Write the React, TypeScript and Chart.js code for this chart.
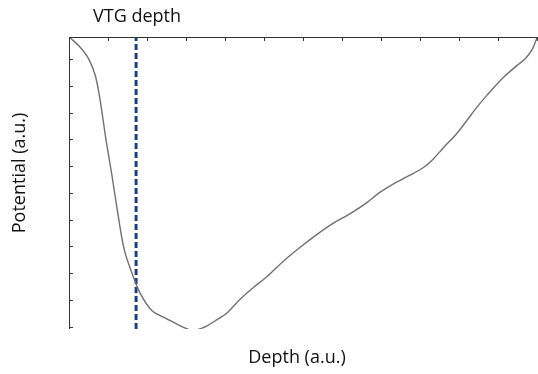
import React, { useEffect, useRef } from "react";
import { Chart, registerables } from "chart.js";

Chart.register(...registerables);

const depthX = [0.03, 0.28, 0.49, 0.67, 0.79, 0.95, 1.10, 1.26, 1.41, 1.59, 1.82, 2.13, 2.51, 2.85, 3.10, 3.28, 3.54, 3.74, 4.05, 4.38, 4.72, 5.08, 5.49, 5.92, 6.36, 6.77, 7.21, 7.64, 7.95, 8.31, 8.74, 9.08, 9.33, 9.59, 9.95, 10.21, 10.46, 10.72, 11.13, 11.49, 11.69, 11.87, 12.0];
const potentialY = [10.79, 10.45, 10.04, 9.40, 8.54, 6.97, 5.66, 4.16, 2.92, 2.10, 1.27, 0.60, 0.30, 0.04, -0.11, -0.11, 0.04, 0.22, 0.52, 1.02, 1.46, 1.88, 2.44, 2.96, 3.45, 3.86, 4.23, 4.64, 5.0, 5.33, 5.66, 5.94, 6.25, 6.67, 7.23, 7.72, 8.20, 8.65, 9.30, 9.76, 10.0, 10.34, 10.79];
const vtgDepth = 1.72;
const xTicks = [0, 1, 2, 3, 4, 5, 6, 7, 8, 9, 10, 11, 12];
const yTicks = [0, 1, 2, 3, 4, 5, 6, 7, 8, 9, 10];
const xMin = 0, xMax = 12, yMin = -0.08, yMax = 10.82;
const vtgLabel = "VTG depth";
const xTitle = "Depth (a.u.)";
const yTitle = "Potential (a.u.)";

const FONT = "'Open Sans', sans-serif";

const axesPlugin = {
  id: "customAxes",
  afterDraw(chart: any) {
    const { ctx, chartArea } = chart;
    const xs = chart.scales.x;
    const ys = chart.scales.y;
    const left = chartArea.left;
    const top = chartArea.top;
    const right = chartArea.right;
    const bottom = chartArea.bottom;
    ctx.save();
    ctx.strokeStyle = "#333";
    ctx.lineWidth = 1;
    ctx.beginPath();
    ctx.moveTo(left + 0.5, bottom);
    ctx.lineTo(left + 0.5, top + 0.5);
    ctx.lineTo(right, top + 0.5);
    ctx.stroke();
    ctx.beginPath();
    xTicks.forEach((t) => {
      const px = Math.round(xs.getPixelForValue(t)) + 0.5;
      ctx.moveTo(px, top);
      ctx.lineTo(px, top + 4);
    });
    yTicks.forEach((t) => {
      const py = Math.round(ys.getPixelForValue(t)) + 0.5;
      ctx.moveTo(left, py);
      ctx.lineTo(left + 4, py);
    });
    ctx.stroke();
    ctx.fillStyle = "#111";
    ctx.font = `18px ${FONT}`;
    ctx.textAlign = "center";
    ctx.textBaseline = "middle";
    ctx.fillText(vtgLabel, xs.getPixelForValue(vtgDepth) + 1, 17);
    ctx.fillText(xTitle, 297, 358);
    ctx.translate(20, 173);
    ctx.rotate(-Math.PI / 2);
    ctx.fillText(yTitle, 0, 0);
    ctx.restore();
  },
};

export default function App() {
  const ref = useRef<HTMLCanvasElement>(null);
  useEffect(() => {
    document.body.style.margin = "0";
    const chart = new Chart(ref.current as HTMLCanvasElement, {
      type: "scatter",
      data: {
        datasets: [
          {
            data: depthX.map((x, i) => ({ x, y: potentialY[i] })),
            showLine: true,
            borderColor: "#707070",
            borderWidth: 1.4,
            pointRadius: 0,
            tension: 0.3,
          },
          {
            data: [
              { x: vtgDepth, y: yMin },
              { x: vtgDepth, y: yMax },
            ],
            showLine: true,
            borderColor: "#1f3f7f",
            borderWidth: 3,
            borderDash: [6, 3],
            pointRadius: 0,
          },
        ],
      },
      options: {
        animation: false,
        responsive: false,
        events: [],
        layout: { padding: { left: 69, top: 37, right: 1, bottom: 45 } },
        plugins: { legend: { display: false }, tooltip: { enabled: false } },
        scales: {
          x: { type: "linear", min: xMin, max: xMax, display: false },
          y: { type: "linear", min: yMin, max: yMax, display: false },
        },
      },
      plugins: [axesPlugin],
    });
    return () => chart.destroy();
  }, []);
  return <canvas ref={ref} width={538} height={374} style={{ display: "block" }} />;
}
